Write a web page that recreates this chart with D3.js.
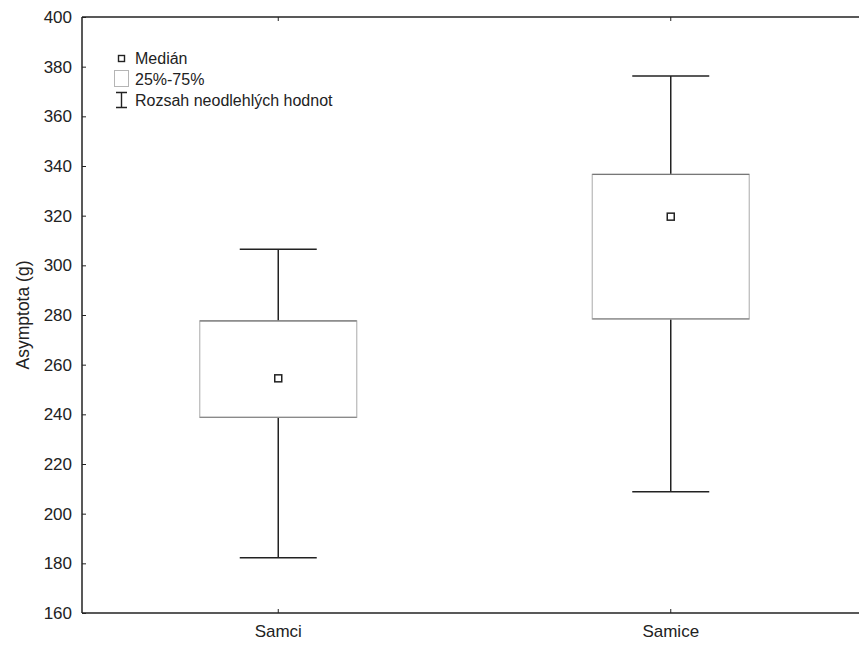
<!DOCTYPE html>
<html>
<head>
<meta charset="utf-8">
<script src="https://cdn.jsdelivr.net/npm/d3@7"></script>
<style>
  html, body { margin: 0; padding: 0; background: #fff; }
  svg { display: block; font-family: "Liberation Sans", Arial, sans-serif; }
</style>
</head>
<body>
<svg id="chart" width="859" height="646"></svg>
<script>
// Box plot of asymptote weight by sex
const categories = ["Samci", "Samice"];
const medians    = [254.5, 319.6];
const q1         = [238.8, 278.4];
const q3         = [277.6, 336.6];
const whiskerLo  = [182.2, 208.8];
const whiskerHi  = [306.5, 376.2];
const yTicks     = [160, 180, 200, 220, 240, 260, 280, 300, 320, 340, 360, 380, 400];

const data = categories.map((c, i) => ({
  cat: c, med: medians[i], lo: q1[i], hi: q3[i], wLo: whiskerLo[i], wHi: whiskerHi[i]
}));

const svg = d3.select("#chart");
const plotL = 82, plotT = 17, plotB = 613, plotR = 867;

const x = d3.scaleBand().domain(categories).range([plotL, plotR]);
const y = d3.scaleLinear().domain([160, 400]).range([plotB, plotT]);

const boxW = 157, capW = 77, medSize = 7;
const ink = "#222";
const font = "Liberation Sans, Arial, sans-serif";

// frame lines (left, top, bottom)
svg.append("line").attr("x1", plotL).attr("x2", plotL).attr("y1", plotT).attr("y2", plotB)
  .attr("stroke", ink).attr("stroke-width", 1.5);
svg.append("line").attr("x1", plotL).attr("x2", 859).attr("y1", plotT).attr("y2", plotT)
  .attr("stroke", ink).attr("stroke-width", 1.5);
svg.append("line").attr("x1", plotL).attr("x2", 859).attr("y1", plotB).attr("y2", plotB)
  .attr("stroke", ink).attr("stroke-width", 1.5);

// y axis with inward ticks
const yAxis = d3.axisLeft(y).tickValues(yTicks).tickSize(-4).tickPadding(10);
const gy = svg.append("g").attr("transform", `translate(${plotL},0)`).call(yAxis);
gy.select(".domain").remove();
gy.selectAll(".tick line").attr("stroke", ink);
gy.selectAll(".tick text").attr("font-size", 17).attr("fill", ink).attr("font-family", font);

// x axis (bottom), inward ticks
const xAxis = d3.axisBottom(x).tickSize(-4).tickPadding(11.5);
const gx = svg.append("g").attr("transform", `translate(0,${plotB})`).call(xAxis);
gx.select(".domain").remove();
gx.selectAll(".tick line").attr("stroke", ink);
gx.selectAll(".tick text").attr("font-size", 17).attr("fill", ink).attr("font-family", font);

// top axis ticks pointing down
const gt = svg.append("g").attr("transform", `translate(0,${plotT})`)
  .call(d3.axisTop(x).tickSize(-4).tickFormat(""));
gt.select(".domain").remove();
gt.selectAll(".tick line").attr("stroke", ink);

// y axis title
svg.append("text")
  .attr("transform", `translate(28.5,${(plotT + plotB) / 2}) rotate(-90)`)
  .attr("text-anchor", "middle")
  .attr("font-size", 17.5).attr("fill", ink)
  .text("Asymptota (g)");

const g = svg.append("g");
const cx = d => x(d.cat) + x.bandwidth() / 2;

// whiskers
g.selectAll(".whisker").data(data).join("line")
  .attr("x1", cx).attr("x2", cx)
  .attr("y1", d => y(d.wLo)).attr("y2", d => y(d.wHi))
  .attr("stroke", ink).attr("stroke-width", 1.5);
g.selectAll(".capHi").data(data).join("line")
  .attr("x1", d => cx(d) - capW / 2).attr("x2", d => cx(d) + capW / 2)
  .attr("y1", d => y(d.wHi)).attr("y2", d => y(d.wHi))
  .attr("stroke", ink).attr("stroke-width", 1.5);
g.selectAll(".capLo").data(data).join("line")
  .attr("x1", d => cx(d) - capW / 2).attr("x2", d => cx(d) + capW / 2)
  .attr("y1", d => y(d.wLo)).attr("y2", d => y(d.wLo))
  .attr("stroke", ink).attr("stroke-width", 1.5);

// quartile boxes: light sides, darker top and bottom edges
g.selectAll(".box").data(data).join("rect")
  .attr("x", d => cx(d) - boxW / 2).attr("width", boxW)
  .attr("y", d => y(d.hi)).attr("height", d => y(d.lo) - y(d.hi))
  .attr("fill", "#fff").attr("stroke", "#b8b8b8").attr("stroke-width", 1.2);
g.selectAll(".boxTop").data(data).join("line")
  .attr("x1", d => cx(d) - boxW / 2).attr("x2", d => cx(d) + boxW / 2)
  .attr("y1", d => y(d.hi)).attr("y2", d => y(d.hi))
  .attr("stroke", "#777").attr("stroke-width", 1.2);
g.selectAll(".boxBot").data(data).join("line")
  .attr("x1", d => cx(d) - boxW / 2).attr("x2", d => cx(d) + boxW / 2)
  .attr("y1", d => y(d.lo)).attr("y2", d => y(d.lo))
  .attr("stroke", "#8a8a8a").attr("stroke-width", 1.2);

// median markers
g.selectAll(".med").data(data).join("rect")
  .attr("x", d => cx(d) - medSize / 2).attr("y", d => y(d.med) - medSize / 2)
  .attr("width", medSize).attr("height", medSize)
  .attr("fill", "#fff").attr("stroke", ink).attr("stroke-width", 1.5);

// legend
const lg = svg.append("g").attr("font-size", 16).attr("fill", ink);
lg.append("rect").attr("x", 118.5).attr("y", 55.5).attr("width", 6).attr("height", 6)
  .attr("fill", "#fff").attr("stroke", ink).attr("stroke-width", 1.4);
lg.append("text").attr("x", 135).attr("y", 64).text("Medián");
lg.append("rect").attr("x", 114.5).attr("y", 70.5).attr("width", 14).attr("height", 16)
  .attr("fill", "#fff").attr("stroke", "#b5b5b5").attr("stroke-width", 1);
lg.append("text").attr("x", 135).attr("y", 85).text("25%-75%");
lg.append("path").attr("d", "M116,92.5H127M121.5,92.5V107.5M116,107.5H127")
  .attr("fill", "none").attr("stroke", ink).attr("stroke-width", 1.4);
lg.append("text").attr("x", 135).attr("y", 106).text("Rozsah neodlehlých hodnot");
</script>
</body>
</html>
